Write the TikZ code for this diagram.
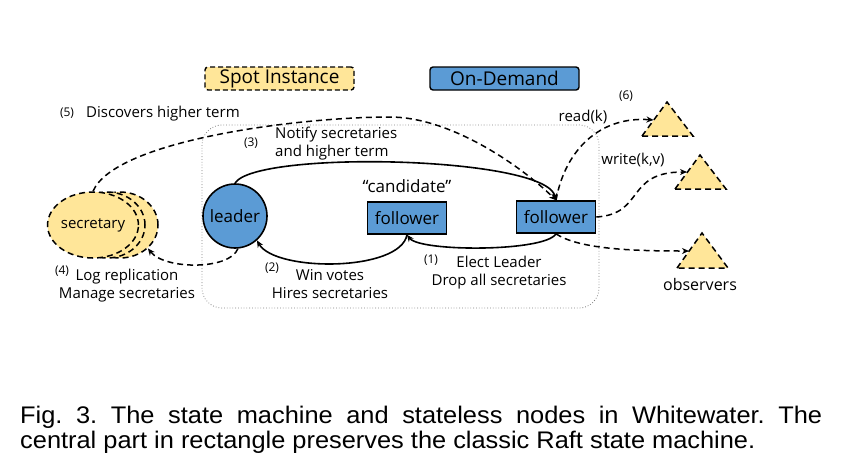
\documentclass[tikz,border=0pt]{standalone}
\usepackage{fontspec}
\setmainfont{Open Sans}
\newfontfamily\capfont{Liberation Sans}
\usetikzlibrary{arrows.meta,shapes.geometric}
\definecolor{spoty}{HTML}{FFE699}
\definecolor{odblue}{HTML}{5B9BD5}
\newcommand\captwo{central part in rectangle preserves the classic Raft state machine.}
\newcommand\capone{Fig. 3. The state machine and stateless nodes in Whitewater. The}
\frenchspacing
\begin{document}
\begin{tikzpicture}[x=1pt,y=-1pt,
  lbl/.style={font=\fontsize{15}{18}\selectfont, inner sep=0},
  num/.style={font=\fontsize{12}{14}\selectfont, inner sep=0},
  legendbox/.style={draw, line width=1.4, rounded corners=3, minimum width=149, minimum height=23, inner sep=0, font=\fontsize{19}{22}\selectfont},
  statebox/.style={draw, line width=1.6, fill=odblue, minimum width=79, minimum height=32, inner sep=0, font=\fontsize{17}{20}\selectfont},
  secell/.style={ellipse, draw, fill=spoty, dash pattern=on 6pt off 4pt, line width=1.5, minimum width=76, minimum height=66, inner sep=0},
  dsh/.style={dash pattern=on 6pt off 4pt, line width=1.5},
  sol/.style={line width=1.6},
  arr/.style={-{Stealth[length=7pt,width=6pt]}},
  tri/.style={draw, fill=spoty, dash pattern=on 6pt off 4pt, line width=1.5, line join=miter},
  captext/.style={anchor=base west, inner sep=0, font=\capfont\fontsize{24}{26}\selectfont}
]
\useasboundingbox (0,0) rectangle (842,475);

% legend
\node[legendbox, fill=spoty, dash pattern=on 5pt off 3pt] (spot) at (279.5,78.5) {Spot Instance};
\node[legendbox, fill=odblue] (ondemand) at (504.5,78.5) {On-Demand};

% dotted frame
\draw[gray, dotted, line width=0.8, rounded corners=20] (202,125) rectangle (599,308);

% states
\node[circle, draw, line width=1.6, fill=odblue, minimum size=64, inner sep=0, font=\fontsize{17}{20}\selectfont] (leader) at (235,216) {leader};
\node[statebox] (cand) at (407,218) {follower};
\node[statebox] (fol) at (556,217) {follower};
\node[font=\fontsize{17}{20}\selectfont, inner sep=0] (candlbl) at (407,186) {“candidate”};

% secretaries
\node[secell] (sec3) at (120,225) {};
\node[secell] (sec2) at (107,225) {};
\node[secell, font=\fontsize{15}{18}\selectfont] (sec1) at (93,225) {secretary};

% observers (triangles)
\coordinate (t1a) at (642,136); \coordinate (t1b) at (667,102); \coordinate (t1c) at (693,136);
\coordinate (t2a) at (675,189); \coordinate (t2b) at (700,155); \coordinate (t2c) at (726,189);
\coordinate (t3a) at (677,268); \coordinate (t3b) at (702,233); \coordinate (t3c) at (728,268);
\draw[tri] (t1a) -- (t1b) -- (t1c) -- cycle;
\draw[tri] (t2a) -- (t2b) -- (t2c) -- cycle;
\draw[tri] (t3a) -- (t3b) -- (t3c) -- cycle;
\coordinate (t1in) at (653.5,120);
\coordinate (t2in) at (687,172);
\coordinate (t3in) at (689,251);
\coordinate (p5) at (390,117);

% state transitions
\draw[sol, arr] (leader.north) .. controls (255,150) and (545,156) .. (fol.north);
\draw[sol, arr] (cand.south) .. controls (400,272) and (275,272) .. (leader.-48);
\draw[sol, arr] (fol.south) .. controls (545,252) and (420,252) .. (cand.south);

% dashed connectors
\draw[dsh, arr] (leader.-85) .. controls (230,270) and (165,270) .. (sec3.-40);
\draw[dsh, arr] (sec1.north) .. controls (115,140) and (300,117) .. (p5)
  .. controls (450,117) and (520,165) .. (fol.north);
\draw[dsh, arr] (fol.north) .. controls (565,150) and (600,116) .. (t1in);
\draw[dsh, arr] (fol.east) .. controls (645,214) and (625,172) .. (t2in);
\draw[dsh, arr] (fol.south) .. controls (580,250) and (640,251) .. (t3in);

% labels
\node[num] (n5) at (67,113) {(5)};
\node[lbl, anchor=west] (l5) at (86,114) {Discovers higher term};
\node[num] (n3) at (251,143) {(3)};
\node[lbl, anchor=north west, align=left] (l3) at (275,127) {Notify secretaries\\and higher term};
\node[num] (n2) at (272,268) {(2)};
\node[lbl, align=center] (l2) at (330,284) {Win votes\\Hires secretaries};
\node[num] (n1) at (431,260) {(1)};
\node[lbl, align=center] (l1) at (499,273) {Elect Leader\\Drop all secretaries};
\node[num] (n4) at (62,271) {(4)};
\node[lbl, align=center] (l4) at (127,286) {Log replication\\Manage secretaries};
\node[num] (n6) at (626,96) {(6)};
\node[lbl] (lr) at (583,117) {read(k)};
\node[lbl] (lw) at (633,160) {write(k,v)};
\node[font=\fontsize{16}{19}\selectfont, inner sep=0] (lo) at (700,284) {observers};

% caption
\node[captext] (cap1) at (20,423.5)
  {\resizebox{802pt}{\height}{\makebox[758pt][s]{\capone}}};
\node[captext] (cap2) at (20,448)
  {\resizebox{735pt}{\height}{\captwo}};
\end{tikzpicture}
\end{document}
